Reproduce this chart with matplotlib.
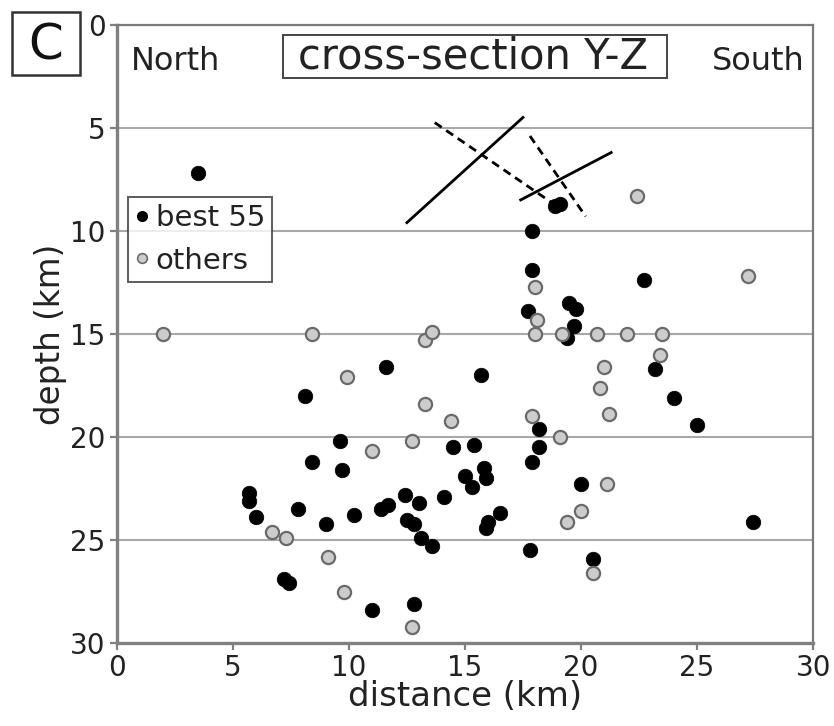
import matplotlib
matplotlib.use("Agg")
import matplotlib.pyplot as plt
from matplotlib.lines import Line2D
from matplotlib.patches import Rectangle

plt.rcParams['font.family'] = ['DejaVu Sans']

# "best 55" events (distance km, depth km)
best_x = [3.5, 18.9, 19.1, 17.9, 17.9, 22.7, 17.7, 19.5, 19.8, 19.7, 19.4,
          15.7, 23.2, 24.0, 25.0, 11.6, 8.1, 9.6, 8.4, 9.7, 18.2, 18.2,
          17.9, 14.5, 15.4, 15.8, 15.9, 15.0, 15.3, 14.1, 13.0, 12.4, 12.5,
          12.8, 13.1, 13.6, 16.5, 16.0, 15.9, 17.8, 20.0, 27.4, 20.5, 12.8,
          5.7, 5.7, 6.0, 7.8, 9.0, 10.2, 11.4, 11.7, 7.2, 7.4, 11.0]
best_y = [7.2, 8.8, 8.7, 10.0, 11.9, 12.4, 13.9, 13.5, 13.8, 14.6, 15.2,
          17.0, 16.7, 18.1, 19.4, 16.6, 18.0, 20.2, 21.2, 21.6, 19.6, 20.5,
          21.2, 20.5, 20.4, 21.5, 22.0, 21.9, 22.4, 22.9, 23.2, 22.8, 24.0,
          24.2, 24.9, 25.3, 23.7, 24.1, 24.4, 25.5, 22.3, 24.1, 25.9, 28.1,
          22.7, 23.1, 23.9, 23.5, 24.2, 23.8, 23.5, 23.3, 26.9, 27.1, 28.4]

# "others"
other_x = [2.0, 8.4, 13.3, 13.6, 18.0, 18.1, 18.0, 19.2, 20.7, 22.0, 23.5,
           23.4, 27.2, 22.4, 21.0, 20.8, 21.2, 17.9, 19.1, 9.9, 13.3, 14.4,
           12.7, 11.0, 21.1, 20.0, 19.4, 20.5, 12.7, 6.7, 7.3, 9.1, 9.8]
other_y = [15.0, 15.0, 15.3, 14.9, 12.7, 14.3, 15.0, 15.0, 15.0, 15.0, 15.0,
           16.0, 12.2, 8.3, 16.6, 17.6, 18.9, 19.0, 20.0, 17.1, 18.4, 19.2,
           20.2, 20.7, 22.3, 23.6, 24.1, 26.6, 29.2, 24.6, 24.9, 25.8, 27.5]

# fault-plane traces
solid_a_x, solid_a_y = [12.5, 17.5], [9.6, 4.5]
solid_b_x, solid_b_y = [17.4, 21.3], [8.5, 6.2]
dash_a_x, dash_a_y = [13.7, 18.7], [4.75, 8.6]
dash_b_x, dash_b_y = [17.8, 20.2], [5.4, 9.3]

ticks = [0, 5, 10, 15, 20, 25, 30]

fig = plt.figure(figsize=(8.34, 7.26), dpi=100)
ax = fig.add_axes([0.140, 0.114, 0.835, 0.852])

ax.set_xlim(0, 30)
ax.set_ylim(30, 0)
ax.set_xticks(ticks)
ax.set_yticks(ticks)
ax.yaxis.grid(True, color='#a8a8a8', lw=1.5)
ax.set_axisbelow(True)

for s in ['left', 'bottom']:
    ax.spines[s].set_color('#808080')
    ax.spines[s].set_linewidth(2.4)
for s in ['top', 'right']:
    ax.spines[s].set_color('#7a7a7a')
    ax.spines[s].set_linewidth(1.6)
ax.tick_params(axis='both', colors='#808080', width=1.6, length=5,
               labelcolor='#222222', labelsize=20)
ax.tick_params(axis='x', pad=3)
ax.tick_params(axis='y', pad=3)

ax.plot(solid_a_x, solid_a_y, color='black', lw=2.0, zorder=3)
ax.plot(solid_b_x, solid_b_y, color='black', lw=2.0, zorder=3)
ax.plot(dash_a_x, dash_a_y, color='black', lw=2.0, ls=(0, (3, 2)), zorder=3)
ax.plot(dash_b_x, dash_b_y, color='black', lw=2.0, ls=(0, (3, 2)), zorder=3)

ax.scatter(best_x, best_y, s=110, color='black', edgecolors='black',
           linewidths=0.5, zorder=4)
ax.scatter(other_x, other_y, s=90, color='#cccccc', edgecolors='#6a6a6a',
           linewidths=1.6, zorder=5)

ax.set_xlabel('distance (km)', fontsize=24.5, color='#222222', labelpad=-2)
ax.set_ylabel('depth (km)', fontsize=23.5, color='#222222', labelpad=2)

ax.text(0.02, 0.965, 'North', transform=ax.transAxes, fontsize=23,
        va='top', ha='left', color='#222222')
ax.text(0.988, 0.965, 'South', transform=ax.transAxes, fontsize=23,
        va='top', ha='right', color='#222222')

# title box inside the axes
ax.add_patch(Rectangle((0.2385, 0.914), 0.5515, 0.0698,
                       transform=ax.transAxes, fc='white', ec='#444444',
                       lw=1.4, zorder=6))
ax.text(0.511, 0.949, 'cross-section Y-Z', transform=ax.transAxes,
        fontsize=30, va='center', ha='center', color='#222222', zorder=7)

# panel letter box
fig.patches.append(Rectangle((12 / 834, 1 - 75 / 726), 68 / 834, 63 / 726,
                             transform=fig.transFigure, fc='white',
                             ec='#333333', lw=1.8))
fig.text(46 / 834, 1 - 46 / 726, 'C', fontsize=36, va='center', ha='center',
         color='#111111')

handles = [
    Line2D([], [], ls='none', marker='o', markersize=7, color='black'),
    Line2D([], [], ls='none', marker='o', markersize=7, markerfacecolor='#cccccc',
           markeredgecolor='#6a6a6a', markeredgewidth=1.2),
]
leg = ax.legend(handles, ['best 55', 'others'], loc='upper left',
                bbox_to_anchor=(0.016, 0.722), fontsize=21, frameon=True,
                fancybox=False, edgecolor='#333333', handlelength=0.5,
                handletextpad=0.2, borderpad=0.25, labelspacing=0.5,
                borderaxespad=0)
leg.get_frame().set_linewidth(1.4)
for t in leg.get_texts():
    t.set_color('#222222')

fig.savefig('out.png', dpi=100)
